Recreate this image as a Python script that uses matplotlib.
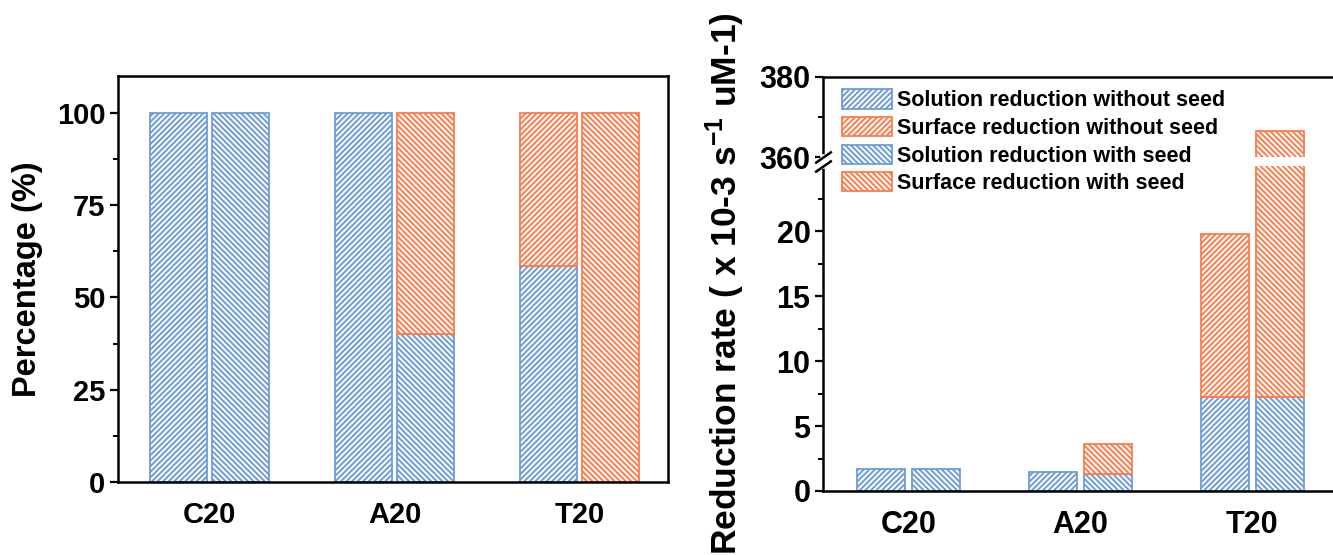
import numpy as np
import matplotlib
matplotlib.use('Agg')
import matplotlib.pyplot as plt
import matplotlib.transforms as mtransforms
from matplotlib.patches import Patch

# data
categories = ['C20', 'A20', 'T20']
# left: percentage
pct_sol_noseed = [100, 100, 58.5]
pct_surf_noseed = [0, 0, 41.5]
pct_sol_seed = [100, 40, 0]
pct_surf_seed = [0, 60, 100]
# right: reduction rate (x 10-3 s-1 uM-1)
rate_sol_noseed = [1.72, 1.46, 7.2]
rate_surf_noseed = [0, 0, 12.6]
rate_sol_seed = [1.72, 1.28, 7.2]
rate_surf_seed = [0, 2.37, 359.3]

blue = '#6e9cd8'
orange = '#fd7c4c'
h_fwd = '/' * 6
h_back = '\\' * 6

plt.rcParams['font.family'] = ['Liberation Sans', 'DejaVu Sans']
plt.rcParams['font.weight'] = 'bold'
plt.rcParams['mathtext.fontset'] = 'custom'
plt.rcParams['mathtext.rm'] = 'Liberation Sans:bold'
plt.rcParams['mathtext.bf'] = 'Liberation Sans:bold'
plt.rcParams['mathtext.it'] = 'Liberation Sans:bold'
plt.rcParams['hatch.linewidth'] = 1.4
plt.rcParams['axes.linewidth'] = 1.8


def stacked(ax, x, bottom_vals, top_vals, width, hatch):
    # draw only non-zero segments so no stray edge lines appear
    for xi, b, t in zip(x, bottom_vals, top_vals):
        if b > 0:
            ax.bar(xi, b, width, color='white', edgecolor=blue, hatch=hatch, linewidth=1.3)
        if t > 0:
            ax.bar(xi, t, width, bottom=b, color='white', edgecolor=orange, hatch=hatch, linewidth=1.3)


def style_ticks(ax, size):
    ax.tick_params(axis='y', which='major', direction='out', length=6, width=1.6, labelsize=size, pad=3)
    ax.tick_params(axis='y', which='minor', direction='out', length=3.5, width=1.4)
    ax.tick_params(axis='x', length=0, labelsize=size, pad=14)
    for lab in ax.get_xticklabels() + ax.get_yticklabels():
        lab.set_fontweight('bold')


fig = plt.figure(figsize=(13.33, 5.55), dpi=100)
x = np.arange(len(categories))

# ---------------- left panel ----------------
ax1 = fig.add_axes([118 / 1333, 73 / 555, 550 / 1333, 406 / 555])
w1 = 0.308
off1 = 0.168
stacked(ax1, x - off1, pct_sol_noseed, pct_surf_noseed, w1, h_fwd)
stacked(ax1, x + off1, pct_sol_seed, pct_surf_seed, w1, h_back)
ax1.set_xlim(-0.495, 2.478)
ax1.set_ylim(0, 110)
ax1.set_yticks([0, 25, 50, 75, 100])
ax1.set_yticks([12.5, 37.5, 62.5, 87.5], minor=True)
ax1.set_xticks(x)
ax1.set_xticklabels(categories)
style_ticks(ax1, 21)
ax1.set_ylabel('Percentage (%)', fontsize=23.5, fontweight='bold', labelpad=10)

# ---------------- right panel (broken y axis) ----------------
ax2 = fig.add_axes([823 / 1333, 64 / 555, 515 / 1333, 414 / 555])
seg_in = [0, 25, 360, 380]
seg_out = [0, 25, 25.67, 31.85]


def fwd(v):
    return np.interp(v, seg_in, seg_out)


def inv(v):
    return np.interp(v, seg_out, seg_in)


ax2.set_yscale('function', functions=(fwd, inv))
w2 = 0.28
off2 = 0.16
stacked(ax2, x - off2, rate_sol_noseed, rate_surf_noseed, w2, h_fwd)
stacked(ax2, x + off2, rate_sol_seed, rate_surf_seed, w2, h_back)
ax2.set_xlim(-0.5, 2.5)
ax2.set_ylim(0, 380)
ax2.set_yticks([0, 5, 10, 15, 20, 360, 380])
ax2.set_yticklabels(['0', '5', '10', '15', '20', '360', '380'])
ax2.set_yticks([2.5, 7.5, 12.5, 17.5, 22.5, 370], minor=True)
ax2.set_xticks(x)
ax2.set_xticklabels(categories)
style_ticks(ax2, 22)
ax2.set_ylabel(r'Reduction rate ( x 10-3 s$^{-1}$ uM-1)', fontsize=25.5, fontweight='bold', labelpad=9)

# break: white gap across bars and marks on the spine
ax2.axhspan(25, 360, color='white', zorder=2, linewidth=0)
blend = mtransforms.blended_transform_factory(ax2.transAxes, ax2.transData)
ax2.plot([0, 0], [25, 360], transform=blend, color='white', lw=4, clip_on=False, zorder=3)
ax2.plot([0, 0], [25, 360], transform=blend, ls='none', marker=[(-1, -0.7), (1, 0.7)],
         ms=12, mew=1.8, color='black', clip_on=False, zorder=4)

handles = [
    Patch(facecolor='white', edgecolor=blue, hatch=h_fwd, linewidth=1.3),
    Patch(facecolor='white', edgecolor=orange, hatch=h_fwd, linewidth=1.3),
    Patch(facecolor='white', edgecolor=blue, hatch=h_back, linewidth=1.3),
    Patch(facecolor='white', edgecolor=orange, hatch=h_back, linewidth=1.3),
]
labels = ['Solution reduction without seed', 'Surface reduction without seed',
          'Solution reduction with seed', 'Surface reduction with seed']
leg = ax2.legend(handles, labels, loc='upper left', bbox_to_anchor=(0.037, 0.97),
                 frameon=False, borderpad=0, borderaxespad=0, handlelength=2.3,
                 handleheight=1.0, handletextpad=0.25, labelspacing=0.26,
                 prop={'size': 15.5, 'weight': 'bold'})
leg.set_zorder(6)

plt.savefig('out.png', dpi=100)
plt.close('all')
